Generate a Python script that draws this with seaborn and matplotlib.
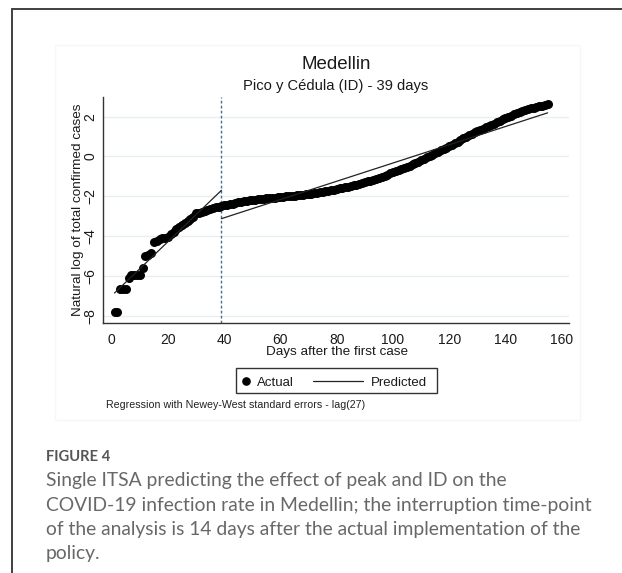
import matplotlib
matplotlib.use("Agg")
import matplotlib.pyplot as plt
import seaborn as sns
import pandas as pd
from matplotlib.lines import Line2D
from matplotlib.patches import Rectangle

# ---------------- data ----------------
days = list(range(1, 156))
actual = [
    -7.78, -7.78, -6.67, -6.67, -6.67, -6.12, -5.97, -5.97, -5.97, -5.97,   # 1-10
    -5.58, -4.98, -4.92, -4.85, -4.28, -4.25, -4.12, -4.10, -4.10, -4.02,   # 11-20
    -3.88, -3.78, -3.66, -3.56, -3.45, -3.36, -3.25, -3.15, -3.02, -2.85,   # 21-30
    -2.82, -2.77, -2.72, -2.68, -2.63, -2.59, -2.55, -2.51, -2.47, -2.44,   # 31-40
    -2.41, -2.39, -2.36, -2.33, -2.30, -2.27, -2.25, -2.22, -2.20, -2.18,   # 41-50
    -2.16, -2.15, -2.13, -2.12, -2.10, -2.09, -2.07, -2.06, -2.04, -2.03,   # 51-60
    -2.01, -2.00, -1.99, -1.98, -1.96, -1.95, -1.93, -1.92, -1.90, -1.88,   # 61-70
    -1.86, -1.84, -1.81, -1.79, -1.76, -1.74, -1.71, -1.68, -1.66, -1.63,   # 71-80
    -1.60, -1.57, -1.54, -1.51, -1.48, -1.44, -1.41, -1.37, -1.33, -1.29,   # 81-90
    -1.25, -1.21, -1.17, -1.13, -1.07, -1.02, -0.96, -0.91, -0.85, -0.80,   # 91-100
    -0.75, -0.70, -0.64, -0.58, -0.52, -0.46, -0.40, -0.33, -0.26, -0.19,   # 101-110
    -0.12, -0.05, 0.02, 0.09, 0.16, 0.23, 0.31, 0.38, 0.45, 0.52,           # 111-120
    0.59, 0.66, 0.74, 0.82, 0.91, 0.99, 1.07, 1.15, 1.22, 1.28,             # 121-130
    1.34, 1.40, 1.46, 1.52, 1.58, 1.65, 1.72, 1.79, 1.86, 1.93,             # 131-140
    1.99, 2.05, 2.11, 2.17, 2.23, 2.28, 2.33, 2.37, 2.41, 2.45,             # 141-150
    2.49, 2.52, 2.55, 2.58, 2.61,                                           # 151-155
]
pred_pre_days = [1, 39]
pred_pre = [-6.85, -1.70]
pred_post_days = [39, 155]
pred_post = [-3.12, 2.19]
interruption_day = 39
x_ticks = [0, 20, 40, 60, 80, 100, 120, 140, 160]
y_ticks = [-8, -6, -4, -2, 0, 2]

title = "Medellin"
subtitle = "Pico y Cédula (ID) - 39 days"
xlabel = "Days after the first case"
ylabel = "Natural log of total confirmed cases"
note = "Regression with Newey-West standard errors - lag(27)"
fig_label = "FIGURE 4"
caption_lines = [
    "Single ITSA predicting the effect of peak and ID on the",
    "COVID-19 infection rate in Medellin; the interruption time-point",
    "of the analysis is 14 days after the actual implementation of the",
    "policy.",
]

df_actual = pd.DataFrame({"day": days, "value": actual})
df_pre = pd.DataFrame({"day": pred_pre_days, "value": pred_pre})
df_post = pd.DataFrame({"day": pred_post_days, "value": pred_post})

# ---------------- style ----------------
sns.set_style("white")
plt.rcParams["font.family"] = ["Liberation Sans", "DejaVu Sans"]

W, H = 622, 573
fig = plt.figure(figsize=(W / 100, H / 100), dpi=100)


def fx(px):
    return px / W


def fy(py):
    return 1 - py / H


# axes geometry in pixels
L, R, T, B = 102.7, 569.0, 96.7, 323.3
ax = fig.add_axes([fx(L), fy(B), (R - L) / W, (B - T) / H])

# outer frame of the page and faint chart panel
fig.add_artist(Line2D([fx(12.3), fx(12.3)], [fy(9.3), 0], transform=fig.transFigure,
                      color="#404040", lw=1.4))
fig.add_artist(Line2D([fx(12.3), 1], [fy(9.3), fy(9.3)], transform=fig.transFigure,
                      color="#404040", lw=1.4))
fig.add_artist(Rectangle((fx(55), fy(420)), (580 - 55) / W, (420 - 45) / H,
                         transform=fig.transFigure, fill=False, edgecolor="#f7f7f7", lw=1))

# data
ax.axvline(interruption_day, color="#45708f", ls=(0, (2.0, 1.6)), lw=1.0, zorder=1)
sns.scatterplot(data=df_actual, x="day", y="value", ax=ax, color="black", s=42,
                linewidth=0, zorder=3, legend=False)
sns.lineplot(data=df_pre, x="day", y="value", ax=ax, color="#222222", lw=0.9, zorder=4,
             legend=False)
sns.lineplot(data=df_post, x="day", y="value", ax=ax, color="#222222", lw=0.9, zorder=4,
             legend=False)

ax.set_xlim(-3.2, 162.6)
ax.set_ylim(-8.37, 3.0)
ax.set_xticks(x_ticks)
ax.set_yticks(y_ticks)
ax.yaxis.grid(True, color="#e7eff2", lw=1.0)
ax.xaxis.grid(False)
ax.set_axisbelow(True)
for s in ["top", "right"]:
    ax.spines[s].set_visible(False)
for s in ["left", "bottom"]:
    ax.spines[s].set_color("#333333")
    ax.spines[s].set_linewidth(1.0)
ax.tick_params(axis="both", direction="out", length=3.6, width=0.8, colors="#333333",
               labelcolor="#1a1a1a", labelsize=10)
ax.tick_params(axis="x", pad=3.4)
ax.tick_params(axis="y", pad=0.4, labelrotation=90)
for t in ax.get_yticklabels():
    t.set_va("center")

ax.set_xlabel(xlabel, fontsize=9.7, color="#1a1a1a")
ax.set_ylabel(ylabel, fontsize=9.7, color="#1a1a1a")
ax.xaxis.set_label_coords((336.5 - L) / (R - L), (B - 346.5) / (B - T))
ax.yaxis.set_label_coords((84.3 - L) / (R - L), 0.5)

# titles
cx = (L + R) / 2
fig.text(fx(cx), fy(69.0), title, ha="center", va="baseline", fontsize=13.5, color="#1a1a1a")
fig.text(fx(cx), fy(90.5), subtitle, ha="center", va="baseline", fontsize=10.65, color="#1a1a1a")

# legend (Stata-style box)
fig.add_artist(Rectangle((fx(236), fy(393)), (437 - 236) / W, (393 - 368) / H,
                         transform=fig.transFigure, fill=False, edgecolor="#333333", lw=1.0))
fig.add_artist(Line2D([fx(245.5)], [fy(381)], transform=fig.transFigure, marker="o",
                      ms=5.2, color="black", lw=0))
fig.text(fx(257), fy(386), "Actual", ha="left", va="baseline", fontsize=9.5, color="#1a1a1a")
fig.add_artist(Line2D([fx(313), fx(363)], [fy(381), fy(381)], transform=fig.transFigure,
                      color="#222222", lw=0.9))
fig.text(fx(371), fy(386), "Predicted", ha="left", va="baseline", fontsize=9.5, color="#1a1a1a")

fig.text(fx(106), fy(408), note, ha="left", va="baseline", fontsize=7.7, color="#222222")

# caption
cap_family = ["Lato", "Open Sans", "DejaVu Sans"]
lab = fig.text(fx(46), fy(461), fig_label, ha="left", va="baseline", fontsize=10.5,
               weight="bold", color="#555555", family=cap_family)
cap_texts = []
for i, (line, base) in enumerate(zip(caption_lines, [486, 510.5, 535, 559.5])):
    cap_texts.append(fig.text(fx(46), fy(base), line, ha="left", va="baseline",
                              fontsize=13.0, weight="normal", color="#686868",
                              family=cap_family))

# fit caption font sizes to the measured widths
fig.canvas.draw()
r = fig.canvas.get_renderer()
w2 = cap_texts[1].get_window_extent(r).width
scale = 545.0 / w2
for t in cap_texts:
    t.set_fontsize(13.0 * scale)
wl = lab.get_window_extent(r).width
lab.set_fontsize(10.5 * 64.0 / wl)

fig.savefig("out.png", dpi=100)
